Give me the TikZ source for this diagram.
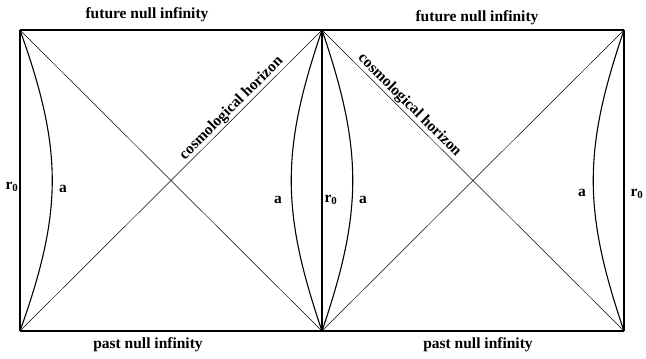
\documentclass[tikz,border=0pt]{standalone}
\usepackage{fontspec}
\setmainfont{Liberation Serif}
\usepackage{tikz}
\usetikzlibrary{positioning,calc}
\tikzset{
  edge/.style={line width=1.6pt, draw=black},
  border/.style={line width=1.2pt, draw=black},
  diag/.style={line width=0.5pt, draw=black},
  worldline/.style={line width=1.1pt, draw=black},
  lbl/.style={font=\fontsize{15.5}{18}\selectfont\bfseries, inner sep=1pt},
  radius/.style={font=\fontsize{15.5}{18}\selectfont\bfseries, inner sep=0pt}
}

\begin{document}
\begin{tikzpicture}[x=1pt,y=-1pt]
\useasboundingbox (0,0) rectangle (646,359);
% corners of the two diamonds
\coordinate (tl) at (20,30);
\coordinate (tm) at (322,30);
\coordinate (tr) at (624,30);
\coordinate (bl) at (20,331);
\coordinate (bm) at (322,331);
\coordinate (br) at (624,331);

\draw[border] (tl) -- (tm) -- (tr);
\draw[border] (bl) -- (bm) -- (br);
\draw[edge] (tl) -- (bl);
\draw[edge] (tm) -- (bm);
\draw[edge] (tr) -- (br);

\draw[diag] (tl) -- (bm);
\draw[diag] (bl) -- node[lbl, sloped, above, pos=0.72] {cosmological horizon} (tm);
\draw[diag] (tm) -- node[lbl, sloped, above, pos=0.27] {cosmological horizon} (br);
\draw[diag] (bm) -- (tr);

% world lines of the observers
\draw[worldline] (tl) .. controls (63,150) and (63,211) .. (bl);
\draw[worldline] (tm) .. controls (281,150) and (281,211) .. (bm);
\draw[worldline] (tm) .. controls (363,150) and (363,211) .. (bm);
\draw[worldline] (tr) .. controls (583,150) and (583,211) .. (br);

\node[lbl] (futL) at (147,15) {future null infinity};
\node[lbl] (futR) at (477,18) {future null infinity};
\node[lbl] (pastL) at (148,345) {past null infinity};
\node[lbl] (pastR) at (478,345) {past null infinity};

\node[radius] (rL) at (12,187) {r$_{\mathbf 0}$};
\node[radius] (rM) at (331,200) {r$_{\mathbf 0}$};
\node[radius] (rR) at (637,194) {r$_{\mathbf 0}$};

\node[lbl] (aL) at (63,189) {a};
\node[lbl] (aML) at (278,200) {a};
\node[lbl] (aMR) at (363,200) {a};
\node[lbl] (aR) at (582,193) {a};
\end{tikzpicture}
\end{document}
